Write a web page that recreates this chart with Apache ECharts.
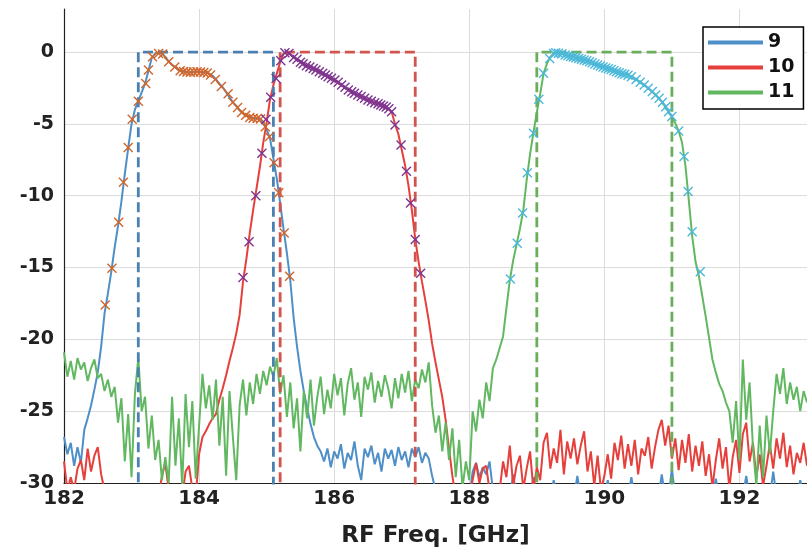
<!DOCTYPE html>
<html>
<head>
<meta charset="utf-8">
<script src="https://cdn.jsdelivr.net/npm/echarts@6/dist/echarts.min.js"></script>
<style>html,body{margin:0;padding:0;background:#fff}#c{width:807px;height:553px}</style>
</head>
<body>
<div id="c"></div>
<script>
// Frequency sampling grid: 182.00 .. 193.00 GHz, step 0.05
const FREQ_START = 182.0;
const FREQ_STEP = 0.05;

// Channel 9 measured (dB)
const ch9 = [
-26.8,-28.0,-27.2,-28.8,-27.5,-28.6,-26.3,-25.5,-24.6,-23.5,
-22.3,-20.5,-18.2,-16.8,-15.3,-13.6,-12.1,-10.4,-8.5,-6.7,
-5.0,-4.0,-3.4,-2.8,-2.2,-1.3,-0.4,-0.1,-0.05,-0.1,
-0.35,-0.65,-0.9,-1.05,-1.25,-1.32,-1.38,-1.4,-1.4,-1.38,
-1.38,-1.4,-1.4,-1.5,-1.65,-1.9,-2.2,-2.45,-2.8,-3.15,
-3.5,-3.75,-4.05,-4.25,-4.4,-4.5,-4.6,-4.6,-4.65,-4.9,
-5.4,-6.0,-7.4,-8.8,-10.5,-12.3,-14.0,-15.9,-18.5,-20.5,
-22.2,-23.6,-24.8,-25.9,-26.8,-27.4,-27.8,-28.5,-27.6,-28.9,
-27.8,-28.3,-27.3,-29.0,-27.9,-28.4,-27.1,-28.8,-29.8,-27.6,
-28.2,-27.4,-28.7,-27.9,-29.2,-27.6,-28.3,-27.7,-28.8,-27.5,
-28.4,-27.8,-28.9,-27.6,-28.2,-27.5,-28.6,-27.9,-28.3,-29.5,
-30.5,-31,-31,-31,-31,-31,-31,-31,-31,-31,
-31,-29.2,-28.6,-29.6,-28.9,-29.4,-28.5,-30.5,-31,-31,
-31,-30.5,-31,-29.4,-31,-31,-30.6,-31,-31,-29.6,
-31,-31,-30.5,-31,-31,-29.8,-31,-31,-31,-30.6,
-31,-31,-29.5,-31,-31,-31,-30.5,-31,-31,-31,
-31,-29.8,-31,-31,-31,-30.4,-31,-31,-29.6,-31,
-31,-31,-31,-30.5,-31,-31,-31,-29.4,-31,-31,
-29.0,-31,-31,-31,-30.6,-31,-31,-31,-31,-30.5,
-31,-31,-31,-29.7,-31,-31,-31,-30.4,-31,-31,
-31,-31,-29.5,-31,-31,-31,-30.6,-31,-31,-31,
-29.2,-31,-31,-31,-30.5,-31,-31,-31,-29.8,-31,
-31
];

// Channel 10 measured (dB)
const ch10 = [
-28.5,-30.5,-29.6,-30.5,-29.0,-28.4,-29.8,-27.6,-29.2,-28.1,
-27.5,-29.4,-30.5,-31,-31,-31,-31,-31,-31,-31,
-31,-31,-31,-31,-31,-31,-31,-31,-31,-29.5,
-28.6,-30.5,-31,-31,-31,-31,-29.2,-28.8,-30.4,-31,
-28.0,-26.8,-26.4,-25.9,-25.5,-25.2,-24.2,-23.4,-22.5,-21.5,
-20.6,-19.6,-18.3,-16.0,-14.4,-12.6,-11.0,-9.5,-8.0,-6.3,
-4.9,-3.3,-2.3,-1.5,-0.7,-0.1,-0.05,-0.15,-0.35,-0.5,
-0.65,-0.8,-0.95,-1.05,-1.15,-1.3,-1.42,-1.55,-1.7,-1.83,
-1.95,-2.1,-2.3,-2.45,-2.62,-2.75,-2.88,-3.0,-3.1,-3.22,
-3.33,-3.43,-3.52,-3.6,-3.7,-3.8,-3.95,-4.15,-5.0,-5.7,
-6.8,-7.9,-9.3,-11.0,-13.0,-14.6,-16.0,-17.3,-18.7,-20.3,
-21.6,-22.8,-24.0,-25.6,-27.6,-29.5,-31,-31,-31,-31,
-31,-29.8,-28.6,-30.0,-29.0,-28.8,-30.5,-31,-31,-30.5,
-28.5,-29.6,-27.4,-30.2,-28.8,-28.1,-30.4,-29.0,-27.8,-30.5,
-28.9,-29.8,-27.2,-26.5,-29.0,-27.6,-28.6,-26.3,-29.4,-27.1,
-28.3,-26.9,-28.7,-27.4,-26.4,-29.2,-27.8,-30.2,-28.1,-30.5,
-29.5,-28.0,-29.7,-27.2,-28.4,-26.7,-29.0,-27.3,-28.8,-27.0,
-29.4,-27.6,-28.1,-26.8,-29.0,-27.5,-26.3,-25.6,-27.4,-26.0,
-28.3,-26.9,-29.1,-27.0,-28.6,-26.6,-29.2,-27.4,-28.8,-27.1,
-29.5,-28.0,-30.3,-28.4,-26.9,-29.0,-27.5,-30.4,-28.2,-27.0,
-29.3,-26.6,-25.8,-28.5,-27.2,-29.6,-28.0,-30.2,-28.8,-27.3,
-29.0,-26.9,-28.3,-26.5,-28.9,-27.4,-29.4,-27.9,-28.6,-27.2,
-28.8
];

// Channel 11 measured (dB)
const ch11 = [
-20.9,-22.6,-21.5,-22.8,-21.3,-22.1,-21.6,-22.9,-22.0,-21.4,
-22.7,-22.4,-23.6,-22.8,-24.0,-23.3,-25.8,-24.1,-28.5,-25.2,
-29.6,-23.8,-21.3,-25.0,-24.0,-27.6,-25.3,-28.4,-27.0,-29.8,
-28.2,-30.0,-24.0,-28.8,-25.5,-30.2,-23.8,-27.5,-24.3,-29.7,
-26.0,-22.4,-24.8,-23.2,-25.6,-22.8,-27.4,-24.0,-29.5,-23.6,
-26.8,-29.8,-24.6,-22.8,-25.3,-23.0,-24.5,-22.4,-23.8,-22.2,
-23.2,-21.9,-22.6,-21.3,-23.8,-22.5,-25.4,-23.0,-26.2,-24.1,
-27.8,-23.6,-25.5,-22.8,-26.0,-24.0,-22.6,-25.2,-23.5,-24.8,
-22.4,-23.9,-22.7,-25.3,-23.1,-22.0,-24.2,-23.0,-25.4,-22.6,
-23.5,-22.3,-24.4,-22.9,-24.0,-22.5,-23.4,-24.8,-22.7,-24.1,
-22.4,-23.7,-22.2,-24.3,-22.8,-23.4,-22.1,-23.0,-21.6,-24.6,
-26.5,-25.3,-27.8,-25.8,-28.4,-26.2,-29.6,-27.0,-30.3,-28.5,
-29.8,-25.0,-26.4,-24.2,-25.5,-23.0,-24.3,-22.0,-21.4,-20.6,
-19.8,-17.8,-15.9,-14.5,-13.4,-12.3,-11.0,-8.9,-7.1,-5.6,
-4.2,-2.9,-1.5,-0.8,-0.35,-0.08,-0.04,-0.08,-0.15,-0.22,
-0.28,-0.35,-0.42,-0.5,-0.55,-0.62,-0.7,-0.8,-0.88,-0.96,
-1.04,-1.12,-1.2,-1.3,-1.4,-1.48,-1.54,-1.6,-1.72,-1.85,
-2.0,-2.15,-2.32,-2.52,-2.72,-2.95,-3.2,-3.45,-3.8,-4.15,
-4.5,-4.95,-5.5,-6.3,-7.9,-10.3,-12.8,-14.6,-15.6,-17.0,
-18.4,-19.9,-21.4,-22.3,-23.1,-23.6,-24.4,-25.0,-27.2,-24.3,
-28.4,-21.4,-25.6,-23.0,-27.5,-30.2,-26.0,-29.6,-25.3,-28.0,
-25.0,-22.4,-23.8,-22.0,-24.5,-23.0,-24.2,-23.3,-25.0,-23.6,
-24.4
];

// Simulated responses (markers) [freq GHz, dB]
const sim9 = [[182.61,-17.6],[182.71,-15.05],[182.81,-11.85],[182.88,-9.07],[182.95,-6.65],[183.01,-4.68],[183.10,-3.43],[183.21,-2.18],[183.25,-1.25],[183.31,-0.32],[183.40,-0.09],[183.46,-0.14],[183.55,-0.67],[183.64,-1.04],[183.72,-1.3],[183.77,-1.35],[183.82,-1.38],[183.87,-1.4],[183.92,-1.38],[183.97,-1.36],[184.02,-1.38],[184.07,-1.42],[184.12,-1.45],[184.17,-1.6],[184.24,-1.9],[184.33,-2.4],[184.43,-2.9],[184.50,-3.5],[184.57,-3.85],[184.63,-4.2],[184.69,-4.4],[184.75,-4.55],[184.80,-4.6],[184.86,-4.62],[184.91,-4.65],[184.98,-5.2],[185.04,-5.9],[185.11,-7.7],[185.18,-9.8],[185.26,-12.6],[185.34,-15.6]];
const sim10 = [[184.65,-15.7],[184.74,-13.2],[184.84,-10.0],[184.93,-7.04],[184.99,-4.68],[185.06,-3.15],[185.14,-1.83],[185.21,-0.6],[185.27,-0.05],[185.33,-0.1],[185.40,-0.37],[185.45,-0.5],[185.50,-0.7],[185.54,-0.82],[185.59,-0.95],[185.64,-1.04],[185.69,-1.14],[185.73,-1.25],[185.78,-1.36],[185.83,-1.48],[185.87,-1.6],[185.91,-1.71],[185.96,-1.82],[186.01,-1.94],[186.06,-2.1],[186.11,-2.29],[186.16,-2.45],[186.21,-2.64],[186.26,-2.76],[186.30,-2.87],[186.35,-2.98],[186.40,-3.1],[186.45,-3.22],[186.50,-3.33],[186.55,-3.43],[186.60,-3.52],[186.65,-3.6],[186.69,-3.68],[186.73,-3.75],[186.77,-3.82],[186.81,-3.95],[186.85,-4.15],[186.90,-5.07],[186.99,-6.46],[187.07,-8.3],[187.13,-10.5],[187.20,-13.05],[187.28,-15.4]];
const sim11 = [[188.61,-15.8],[188.71,-13.3],[188.79,-11.2],[188.86,-8.4],[188.95,-5.65],[189.03,-3.29],[189.10,-1.48],[189.19,-0.44],[189.25,-0.1],[189.28,-0.05],[189.32,-0.08],[189.37,-0.12],[189.42,-0.2],[189.46,-0.25],[189.50,-0.3],[189.54,-0.35],[189.58,-0.4],[189.62,-0.45],[189.66,-0.5],[189.70,-0.55],[189.74,-0.6],[189.78,-0.68],[189.82,-0.75],[189.86,-0.83],[189.90,-0.9],[189.94,-0.97],[189.98,-1.04],[190.02,-1.1],[190.06,-1.16],[190.10,-1.22],[190.14,-1.3],[190.18,-1.37],[190.22,-1.44],[190.26,-1.5],[190.30,-1.55],[190.35,-1.62],[190.40,-1.72],[190.47,-1.9],[190.53,-2.1],[190.59,-2.29],[190.65,-2.52],[190.71,-2.75],[190.76,-2.98],[190.81,-3.22],[190.86,-3.5],[190.91,-3.8],[190.95,-4.15],[191.00,-4.49],[191.10,-5.5],[191.18,-7.27],[191.24,-9.7],[191.30,-12.5],[191.42,-15.3]];

// Ideal passband masks [freq, dB]
const mask9 = [[183.1,-31],[183.1,0],[185.1,0],[185.1,-31]];
const mask10 = [[185.2,-31],[185.2,0],[187.2,0],[187.2,-31]];
const mask11 = [[189.0,-31],[189.0,0],[191.0,0],[191.0,-31]];

const legendNames = ['9','10','11'];
const xTicks = {min:182, max:193, interval:2};
const yTicks = {min:-30, max:3, interval:5};

function pairs(arr){
  const out=[];
  for(let i=0;i<arr.length;i++){ out.push([+(FREQ_START+i*FREQ_STEP).toFixed(2), arr[i]]); }
  return out;
}

const FONT = 'DejaVu Sans';
const XSYM = 'path://M0,1L1,0L5,4L9,0L10,1L6,5L10,9L9,10L5,6L1,10L0,9L4,5Z';

const C9='#4f8fc7', C10='#e5403b', C11='#62b861';
function lineS(name, data, color){
  return {name, type:'line', data:pairs(data), showSymbol:false, symbol:'none',
    lineStyle:{color, width:2}, itemStyle:{color}, clip:true, z:2, sampling:null};
}
function maskS(data, color){
  return {type:'line', data, showSymbol:false, symbol:'none', clip:true, z:3,
    lineStyle:{color, width:2.8, type:[10,5]}};
}
function simS(data, color){
  return {type:'scatter', data, symbol:XSYM, symbolSize:10, z:4,
    itemStyle:{color, opacity:1}};
}

const chart = echarts.init(document.getElementById('c'), null, {renderer:'canvas'});
chart.setOption({
  animation:false,
  backgroundColor:'#fff',
  textStyle:{fontFamily:FONT},
  grid:{left:64, right:-9, top:9, bottom:68},
  legend:{
    data:legendNames, orient:'vertical', left:703, top:27,
    icon:'rect', itemWidth:55, itemHeight:4, itemGap:6,
    padding:[6,9,7,5], borderColor:'#000', borderWidth:1.5, backgroundColor:'#fff',
    textStyle:{fontFamily:FONT, fontSize:19, fontWeight:'bold', color:'#111'}
  },
  xAxis:{
    type:'value', min:xTicks.min, max:xTicks.max, interval:xTicks.interval,
    name:'RF Freq. [GHz]', nameLocation:'middle', nameGap:42,
    nameTextStyle:{fontFamily:FONT, fontSize:23, fontWeight:'bold', color:'#222'},
    axisLine:{show:true, onZero:false, lineStyle:{color:'#222', width:1.2}},
    axisTick:{show:false},
    axisLabel:{fontFamily:FONT, fontSize:20, fontWeight:'bold', color:'#222', margin:6, showMaxLabel:false},
    splitLine:{show:true, showMaxLine:false, lineStyle:{color:'#dcdcdc', width:1}}
  },
  yAxis:{
    type:'value', min:yTicks.min, max:yTicks.max, interval:yTicks.interval,
    axisLine:{show:true, onZero:false, lineStyle:{color:'#222', width:1.2}},
    axisTick:{show:false},
    axisLabel:{fontFamily:FONT, fontSize:19, fontWeight:'bold', color:'#222', margin:10, showMaxLabel:false},
    splitLine:{show:true, showMaxLine:false, showMinLine:false, lineStyle:{color:'#dcdcdc', width:1}}
  },
  series:[
    lineS('9', ch9, C9),
    lineS('10', ch10, C10),
    lineS('11', ch11, C11),
    maskS(mask9, '#4a80b2'),
    maskS(mask10, '#d2544e'),
    maskS(mask11, '#6aae5c'),
    simS(sim9, '#d2652a'),
    simS(sim10, '#7e3590'),
    simS(sim11, '#4cb8da')
  ]
});
</script>
</body>
</html>
